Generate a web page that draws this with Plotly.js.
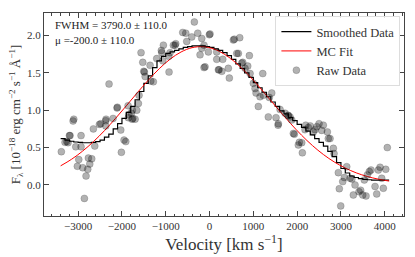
<!DOCTYPE html>
<html><head><meta charset="utf-8">
<script src="https://cdn.plot.ly/plotly-3.0.1.min.js"></script>
<style>html,body{margin:0;padding:0;background:#fff}#c{width:415px;height:257px}</style>
</head><body><div id="c"></div>
<script>
// Raw data points (velocity km/s, flux)
const rawX = [-3384,-3300,-3260,-3231,-3200,-3185,-3116,-3100,-3055,-3018,-2986,-2934,-2934,-2895,-2858,-2820,-2781,-2767,-2735,-2690,-2653,-2621,-2516,-2484,-2370,-2370,-2363,-2295,-2203,-2112,-2105,-2027,-2013,-1952,-1913,-1860,-1854,-1845,-1785,-1770,-1762,-1753,-1700,-1662,-1625,-1610,
-1564,-1525,-1502,-1488,-1470,-1358,-1342,-1283,-1206,-1100,-1091,-1068,-1054,-932,-925,-902,-826,-788,-772,-612,-543,-521,-406,-347,-270,-217,-178,-178,-126,-126,-103,-27,-5,11,
164,164,202,217,280,301,429,452,543,566,621,658,689,735,758,810,872,909,925,1000,1039,1062,1114,1153,1215,1228,1342,1365,1420,1518,1565,1571,1610,1724,1792,1800,1838,1877,1913,1936,2027,2050,2105,2119,2180,2196,2256,2300,2370,2408,2450,2500,2561,2598,2690,2712,2751,2827,2842,2941,2963,2995,3041,3078,3132,3208,3250,3283,3322,3413,3450,3498,3534,3573,3603,3648,3687,3779,3817,3854,3893,3931,3968,4023,4059];
const rawY = [0.445,0.57,0.58,0.566,0.66,0.66,0.856,0.88,0.51,0.25,0.34,0.66,0.51,0.23,-0.18,0.12,0.21,0.36,0.28,0.35,0.75,0.52,0.81,0.82,0.86,0.79,0.88,1.35,0.89,1.03,1.04,0.735,0.437,0.60,0.58,1.06,0.90,0.94,0.96,0.88,1.00,0.89,0.88,1.00,1.09,1.20,
1.77,1.64,1.52,1.51,1.45,1.60,1.39,1.38,1.69,1.80,1.77,1.66,1.87,1.72,1.51,1.77,1.87,1.87,1.89,2.04,2.03,1.92,1.98,2.18,2.03,1.74,1.83,1.96,1.87,1.57,1.58,1.78,2.01,2.02,
1.78,1.68,1.54,1.54,1.52,1.68,1.56,1.43,1.94,1.95,1.76,1.76,1.97,1.63,1.64,1.56,1.59,1.73,1.49,1.36,1.29,1.23,1.05,1.18,1.49,1.20,0.91,1.17,1.23,0.90,0.80,0.82,1.01,0.96,0.93,0.93,0.91,0.87,0.69,0.68,0.535,0.57,0.566,0.43,0.74,0.80,0.77,0.79,0.71,0.74,0.78,0.82,0.73,0.80,0.71,0.62,0.62,0.49,0.42,0.165,-0.05,-0.28,0.045,0.10,0.245,0.09,0.08,-0.134,0.0,-0.09,-0.07,-0.134,0.067,-0.147,0.134,0.18,0.20,-0.02,-0.12,0.20,0.237,0.09,-0.044,0.21,0.50];

// Smoothed (stepped) data
const smoothX = [-3400,-3300,-3200,-3100,-3000,-2900,-2800,-2700,-2600,-2500,-2400,-2300,-2200,-2100,-2000,-1900,-1800,-1700,-1600,-1500,-1400,-1300,-1200,-1100,-1000,-900,-800,-700,-600,-500,-400,-300,-200,-100,0,100,200,300,400,500,600,700,800,900,1000,1100,1200,1300,1400,1500,1600,1700,1800,1900,2000,2100,2200,2300,2400,2500,2600,2700,2800,2900,3000,3100,3200,3300,3400,3500,3600,3700,3800,3900,4000,4100];
const smoothY = [0.62,0.60,0.585,0.575,0.57,0.565,0.565,0.57,0.58,0.60,0.64,0.68,0.75,0.82,0.89,0.97,1.05,1.14,1.25,1.36,1.46,1.57,1.66,1.72,1.76,1.78,1.80,1.82,1.84,1.85,1.86,1.86,1.86,1.85,1.84,1.82,1.80,1.77,1.73,1.68,1.62,1.56,1.50,1.44,1.37,1.30,1.24,1.18,1.11,1.05,0.99,0.95,0.90,0.86,0.81,0.77,0.72,0.67,0.62,0.57,0.52,0.45,0.38,0.30,0.22,0.16,0.12,0.10,0.085,0.075,0.07,0.065,0.065,0.065,0.065,0.065];

// MC fit curve
const fitX = [-3400,-3150,-2900,-2650,-2400,-2150,-1900,-1650,-1400,-1150,-900,-650,-400,-150,100,350,600,850,1100,1350,1600,1850,2100,2350,2600,2850,3100,3350,3600,3850,4100];
const fitY = [0.256,0.344,0.452,0.580,0.726,0.888,1.059,1.233,1.401,1.554,1.683,1.779,1.836,1.849,1.818,1.745,1.635,1.495,1.335,1.163,0.990,0.822,0.666,0.527,0.407,0.307,0.226,0.162,0.114,0.078,0.052];

const fitLabel1 = 'FWHM = 3790.0 ± 110.0';
const fitLabel2 = 'μ =-200.0 ± 110.0';

const font = 'Liberation Serif, DejaVu Serif, serif';

const traces = [
  {x: smoothX, y: smoothY, type:'scatter', mode:'lines', name:'Smoothed Data',
   line:{color:'black', width:1.2, shape:'hv'}},
  {x: fitX, y: fitY, type:'scatter', mode:'lines', name:'MC Fit',
   line:{color:'red', width:1, shape:'spline'}},
  {x: rawX, y: rawY, type:'scatter', mode:'markers', name:'Raw Data',
   marker:{color:'rgba(0,0,0,0.3)', size:7, line:{color:'rgba(0,0,0,0.2)', width:0.8}}}
];

const axisCommon = {
  showgrid:false, zeroline:false, showline:true, linecolor:'#444', linewidth:1,
  mirror:'ticks', ticks:'inside', ticklen:5, tickcolor:'#444', tickwidth:1,
  tickfont:{family:font, size:11, color:'#333'}
};

const layout = {
  width:415, height:257,
  margin:{l:44, r:11, t:13, b:41},
  paper_bgcolor:'white', plot_bgcolor:'white',
  showlegend:true,
  legend:{x:0.99, y:0.985, xanchor:'right', yanchor:'top',
    bgcolor:'rgba(255,255,255,0.85)', bordercolor:'#ddd', borderwidth:1,
    font:{family:font, size:12.5, color:'#333'}, tracegroupgap:0, itemwidth:30},
  xaxis: Object.assign({}, axisCommon, {
    range:[-3780, 4440], dtick:1000, tick0:0,
    minor:{ticks:'inside', ticklen:2.5, dtick:200, tickcolor:'#444'},
    title:{text:'Velocity [km s<sup>−1</sup>]', font:{family:font, size:17, color:'#333'}, standoff:4}
  }),
  yaxis: Object.assign({}, axisCommon, {
    range:[-0.415, 2.30], dtick:0.5, tick0:0, tickformat:'.1f',
    title:{text:'F<sub>λ</sub> [10<sup>−18</sup> erg cm<sup>−2</sup> s<sup>−1</sup> Å<sup>−1</sup>]', font:{family:font, size:13, color:'#333'}, standoff:3}
  }),
  annotations:[
    {xref:'paper', yref:'paper', x:0.025, y:0.94, xanchor:'left', yanchor:'middle', showarrow:false,
     text:fitLabel1, font:{family:font, size:11, color:'#222'}},
    {xref:'paper', yref:'paper', x:0.025, y:0.865, xanchor:'left', yanchor:'middle', showarrow:false,
     text:fitLabel2, font:{family:font, size:11, color:'#222'}}
  ]
};

Plotly.newPlot('c', traces, layout, {displayModeBar:false, staticPlot:true});
</script></body></html>
